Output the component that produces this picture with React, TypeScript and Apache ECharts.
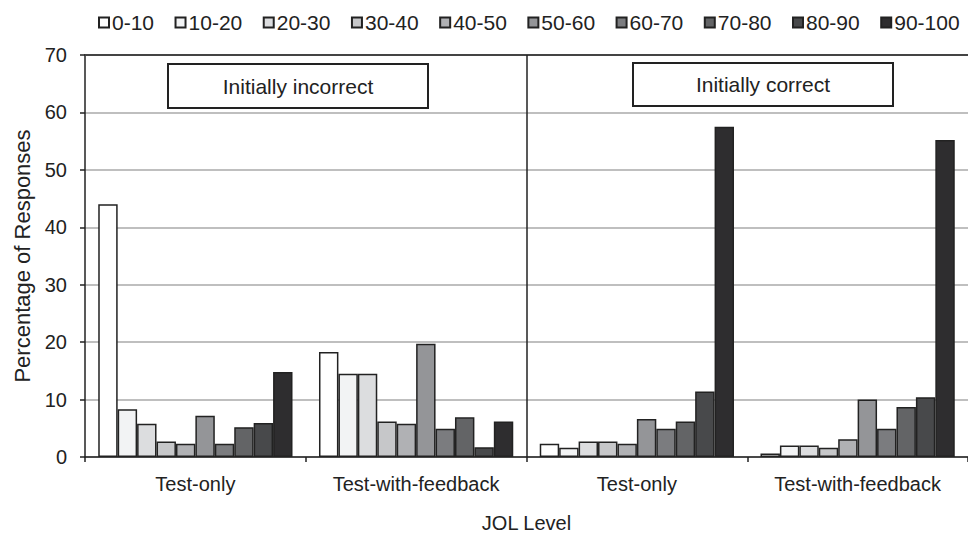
import React, { useEffect, useRef } from "react";
import * as echarts from "echarts";

const categories = ["Test-only", "Test-with-feedback", "Test-only", "Test-with-feedback"];
const jolLevels = ["0-10", "10-20", "20-30", "30-40", "40-50", "50-60", "60-70", "70-80", "80-90", "90-100"];
const levelColors = ["#ffffff", "#f2f3f4", "#dcdddf", "#c6c7c9", "#b0b1b4", "#949598", "#7b7c7f", "#636466", "#48494b", "#2e2d2f"];

// values per condition, one per JOL level
const incorrectTestOnly = [44.0, 8.3, 5.8, 2.7, 2.3, 7.2, 2.3, 5.2, 5.9, 14.8];
const incorrectFeedback = [18.3, 14.5, 14.5, 6.2, 5.8, 19.7, 4.9, 6.9, 1.7, 6.2];
const correctTestOnly = [2.3, 1.6, 2.7, 2.7, 2.3, 6.6, 4.9, 6.2, 11.4, 57.5];
const correctFeedback = [0.6, 2.0, 2.0, 1.6, 3.1, 10.0, 4.9, 8.7, 10.4, 55.2];

const yTicks = [0, 10, 20, 30, 40, 50, 60, 70];
const panelLabels = ["Initially incorrect", "Initially correct"];

const FONT = "'Liberation Sans', Arial, Helvetica, sans-serif";
const INK = "#222222";

export default function App() {
  const ref = useRef<HTMLDivElement>(null);
  useEffect(() => {
    if (!ref.current) return;
    const chart = echarts.init(ref.current, undefined, { renderer: "svg" });
    const groups = [incorrectTestOnly, incorrectFeedback, correctTestOnly, correctFeedback];
    const barSeries = jolLevels.map((lvl, i) => ({
      name: lvl,
      type: "bar",
      xAxisIndex: 0,
      yAxisIndex: 0,
      data: groups.map((g) => g[i]),
      barGap: "0%",
      barCategoryGap: "12%",
      itemStyle: { color: levelColors[i], borderColor: INK, borderWidth: 1.5 },
      emphasis: { disabled: true },
    }));
    const option = {
      animation: false,
      textStyle: { fontFamily: FONT },
      legend: {
        data: jolLevels,
        left: 98,
        top: 12,
        padding: 0,
        itemWidth: 10,
        itemHeight: 10,
        itemGap: 20.5,
        icon: "rect",
        textStyle: { fontSize: 21, color: INK, fontFamily: FONT, padding: [5, 0, 0, -2] },
        selectedMode: false,
      },
      grid: { left: 85, right: 0, top: 55, bottom: 78, containLabel: false, outerBoundsMode: "none" },
      xAxis: [
        {
          type: "category",
          data: categories,
          position: "bottom",
          axisLine: { show: true, lineStyle: { color: INK, width: 1.5 } },
          axisTick: { show: true, length: 5, lineStyle: { color: INK, width: 1.5 } },
          axisLabel: { fontSize: 20, color: INK, margin: 17, fontFamily: FONT },
          name: "JOL Level",
          nameLocation: "middle",
          nameGap: 56,
          nameTextStyle: { fontSize: 20, color: INK, fontFamily: FONT },
        },
        {
          type: "value",
          min: 0,
          max: 4,
          position: "top",
          axisLine: { show: true, onZero: false, lineStyle: { color: "#444444", width: 2 } },
          axisTick: { show: false },
          axisLabel: { show: false },
          splitLine: { show: false },
        },
      ],
      yAxis: {
        type: "value",
        min: yTicks[0],
        max: yTicks[yTicks.length - 1],
        interval: 10,
        axisLine: { show: true, lineStyle: { color: INK, width: 1.5 } },
        axisTick: { show: true, length: 5, inside: false, lineStyle: { color: INK, width: 1.5 } },
        axisLabel: { fontSize: 20, color: INK, margin: 18, fontFamily: FONT },
        splitLine: { show: true, lineStyle: { color: "#aaaaaa", width: 1.5 } },
        name: "Percentage of Responses",
        nameLocation: "middle",
        nameGap: 50,
        nameTextStyle: { fontSize: 22, color: INK, fontFamily: FONT },
      },
      series: [
        ...barSeries,
        {
          name: "divider",
          type: "line",
          xAxisIndex: 1,
          yAxisIndex: 0,
          data: [[2, 0]],
          showSymbol: false,
          symbolSize: 0,
          silent: true,
          markLine: {
            silent: true,
            symbol: ["none", "none"],
            label: { show: false },
            lineStyle: { color: INK, width: 1.5, type: "solid" },
            data: [{ xAxis: 2 }],
          },
        },
      ],
      graphic: [
        {
          type: "group",
          left: 167,
          top: 63,
          children: [
            { type: "rect", shape: { x: 0, y: 0, width: 260, height: 44 }, style: { fill: "#ffffff", stroke: INK, lineWidth: 2 } },
            { type: "text", x: 130, y: 22, style: { text: panelLabels[0], fontSize: 21, fontFamily: FONT, fill: INK, align: "center", verticalAlign: "middle" } },
          ],
        },
        {
          type: "group",
          left: 632,
          top: 62,
          children: [
            { type: "rect", shape: { x: 0, y: 0, width: 260, height: 43 }, style: { fill: "#ffffff", stroke: INK, lineWidth: 2 } },
            { type: "text", x: 130, y: 21.5, style: { text: panelLabels[1], fontSize: 21, fontFamily: FONT, fill: INK, align: "center", verticalAlign: "middle" } },
          ],
        },
      ],
    };
    chart.setOption(option as any);
    return () => chart.dispose();
  }, []);
  return <div ref={ref} style={{ position: "fixed", left: 0, top: 0, width: 968, height: 535, background: "#ffffff" }} />;
}
